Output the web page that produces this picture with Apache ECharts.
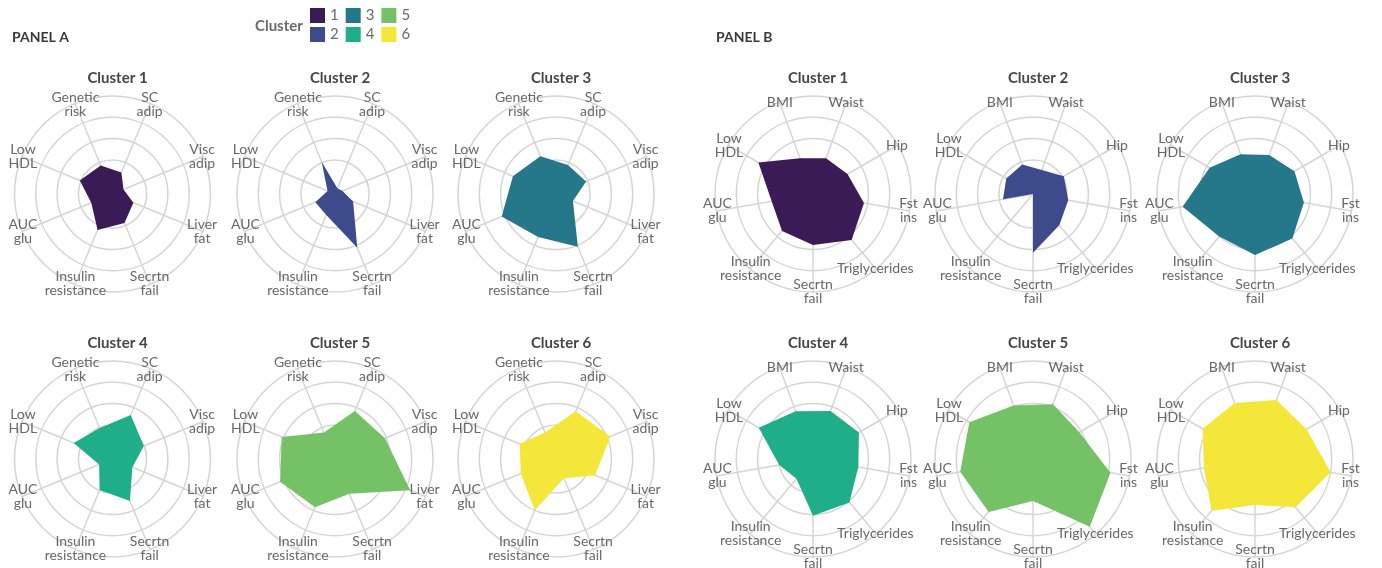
<!DOCTYPE html>
<html>
<head>
<meta charset="utf-8">
<script src="https://cdn.jsdelivr.net/npm/echarts@6/dist/echarts.min.js"></script>
<style>
  html, body { margin: 0; padding: 0; background: #ffffff; }
  #chart { width: 1382px; height: 568px; }
</style>
</head>
<body>
<div id="chart"></div>
<script>
// Cluster profiles (standardised trait means); the centre of each web is AXIS_MIN.
const clusterNames = ['1', '2', '3', '4', '5', '6'];
const clusterColors = ['#3b1b56', '#3d4b8d', '#25778a', '#1eae8a', '#75c266', '#f5e73a'];

// Panel A traits, listed clockwise from the top-left spoke
const traitsA = ['Genetic\nrisk', 'SC\nadip', 'Visc\nadip', 'Liver\nfat', 'Secrtn\nfail',
                 'Insulin\nresistance', 'AUC\nglu', 'Low\nHDL'];
// Panel B traits, listed clockwise from the top-left spoke
const traitsB = ['BMI', 'Waist', 'Hip', 'Fst\nins', 'Triglycerides', 'Secrtn\nfail',
                 'Insulin\nresistance', 'AUC\nglu', 'Low\nHDL'];

const panelA1 = [-0.15, -0.51, -1.04, -0.54, -0.13, 0.23, -0.52, 0.06];
const panelA2 = [0.03, -1.31, -1.22, -0.68, 1.13, -0.53, -0.60, -1.22];
const panelA3 = [0.32, -0.13, -0.07, -0.74, 1.08, 0.59, 1.16, 0.59];
const panelA4 = [-0.03, 0.64, -0.01, -0.59, 0.54, -0.02, -0.92, 0.37];
const panelA5 = [-0.25, 0.84, 0.94, 2.22, 0.17, 0.85, 1.19, 1.11];
const panelA6 = [-0.25, 0.82, 1.16, 0.39, -0.62, 1.00, 0.19, 0.24];

const panelB1 = [0.18, 0.19, 0.27, 0.83, 1.22, 0.79, 0.66, 0.37, 1.36];
const panelB2 = [-0.13, -0.40, 0.07, 0.08, 0.32, 1.16, -1.60, -0.17, -0.15];
const panelB3 = [0.39, 0.35, 0.54, 0.73, 1.13, 1.26, 1.01, 1.85, 0.86];
const panelB4 = [0.79, 0.80, 0.89, 0.56, 1.06, 1.06, -0.39, 0.01, 1.34];
const panelB5 = [1.07, 1.14, 0.91, 2.09, 2.55, 0.37, 1.64, 1.87, 1.85];
const panelB6 = [1.20, 1.35, 1.19, 2.01, 1.36, 0.56, 1.57, 0.83, 1.24];

const AXIS_MIN = -1.6;
const AXIS_MAX = 3;
const ringValues = [0, 1, 2, 3];

const panelAValues = [panelA1, panelA2, panelA3, panelA4, panelA5, panelA6];
const panelBValues = [panelB1, panelB2, panelB3, panelB4, panelB5, panelB6];

// ---- layout ----
const FONT = 'Lato, "Source Sans Pro", "Noto Sans", sans-serif';
const GRID = '#d5d5d5';
const R = 98;
const colsA = [112.5, 335, 556];
const colsB = [813, 1033, 1255];
const rows = [194, 459];

// ECharts lays radar indicators out counter-clockwise from startAngle,
// so keep the first spoke and reverse the rest.
function ccw(arr) { return [arr[0]].concat(arr.slice(1).reverse()); }

const radars = [];
const series = [];
const titles = [];

function addPanel(traits, values, cols, startAngle) {
  values.forEach(function (vals, i) {
    const cx = cols[i % 3];
    const cy = rows[Math.floor(i / 3)];
    const idx = radars.length;
    radars.push({
      center: [cx, cy],
      radius: R,
      startAngle: startAngle,
      shape: 'circle',
      splitNumber: 4,
      indicator: ccw(traits).map(function (t) { return { name: t, min: AXIS_MIN, max: AXIS_MAX }; }),
      nameGap: -1,
      axisName: {
        color: '#686868', fontSize: 14, fontFamily: FONT, lineHeight: 14,
        align: 'center', verticalAlign: 'middle'
      },
      axisLine: { lineStyle: { color: GRID, width: 1.5 } },
      axisTick: { show: false, customValues: ringValues },
      axisLabel: { show: false },
      splitLine: { lineStyle: { color: GRID, width: 1.5 } },
      splitArea: { show: false }
    });
    series.push({
      type: 'radar',
      radarIndex: idx,
      silent: true,
      symbol: 'none',
      data: [{
        name: clusterNames[i],
        value: ccw(vals),
        itemStyle: { color: clusterColors[i] },
        lineStyle: { width: 0, color: clusterColors[i] },
        areaStyle: { color: clusterColors[i], opacity: 1 }
      }]
    });
    titles.push({
      text: 'Cluster ' + clusterNames[i],
      left: cx, top: cy - 128, textAlign: 'center',
      textStyle: { fontFamily: FONT, fontSize: 15, fontWeight: 'bold', color: '#464646' }
    });
  });
}

addPanel(traitsA, panelAValues, colsA, 112.5);
addPanel(traitsB, panelBValues, colsB, 110);

titles.push({ text: 'PANEL A', left: 7, top: 25,
  textStyle: { fontFamily: FONT, fontSize: 14, fontWeight: 'bold', color: '#3a3a3a' } });
titles.push({ text: 'PANEL B', left: 711, top: 25,
  textStyle: { fontFamily: FONT, fontSize: 14, fontWeight: 'bold', color: '#3a3a3a' } });
titles.push({ text: 'Cluster', left: 250, top: 14,
  textStyle: { fontFamily: FONT, fontSize: 15, fontWeight: 'bold', color: '#6a6a6a' } });

const legendBase = {
  orient: 'horizontal', left: 310, padding: 0, icon: 'rect',
  itemWidth: 15, itemHeight: 15, itemGap: 7, selectedMode: false,
  textStyle: { fontFamily: FONT, fontSize: 15, color: '#6a6a6a' }
};

const chart = echarts.init(document.getElementById('chart'), null, { renderer: 'canvas' });
chart.setOption({
  animation: false,
  backgroundColor: '#ffffff',
  title: titles,
  legend: [
    Object.assign({}, legendBase, { top: 8, data: [clusterNames[0], clusterNames[2], clusterNames[4]] }),
    Object.assign({}, legendBase, { top: 27, data: [clusterNames[1], clusterNames[3], clusterNames[5]] })
  ],
  radar: radars,
  series: series
});
</script>
</body>
</html>
